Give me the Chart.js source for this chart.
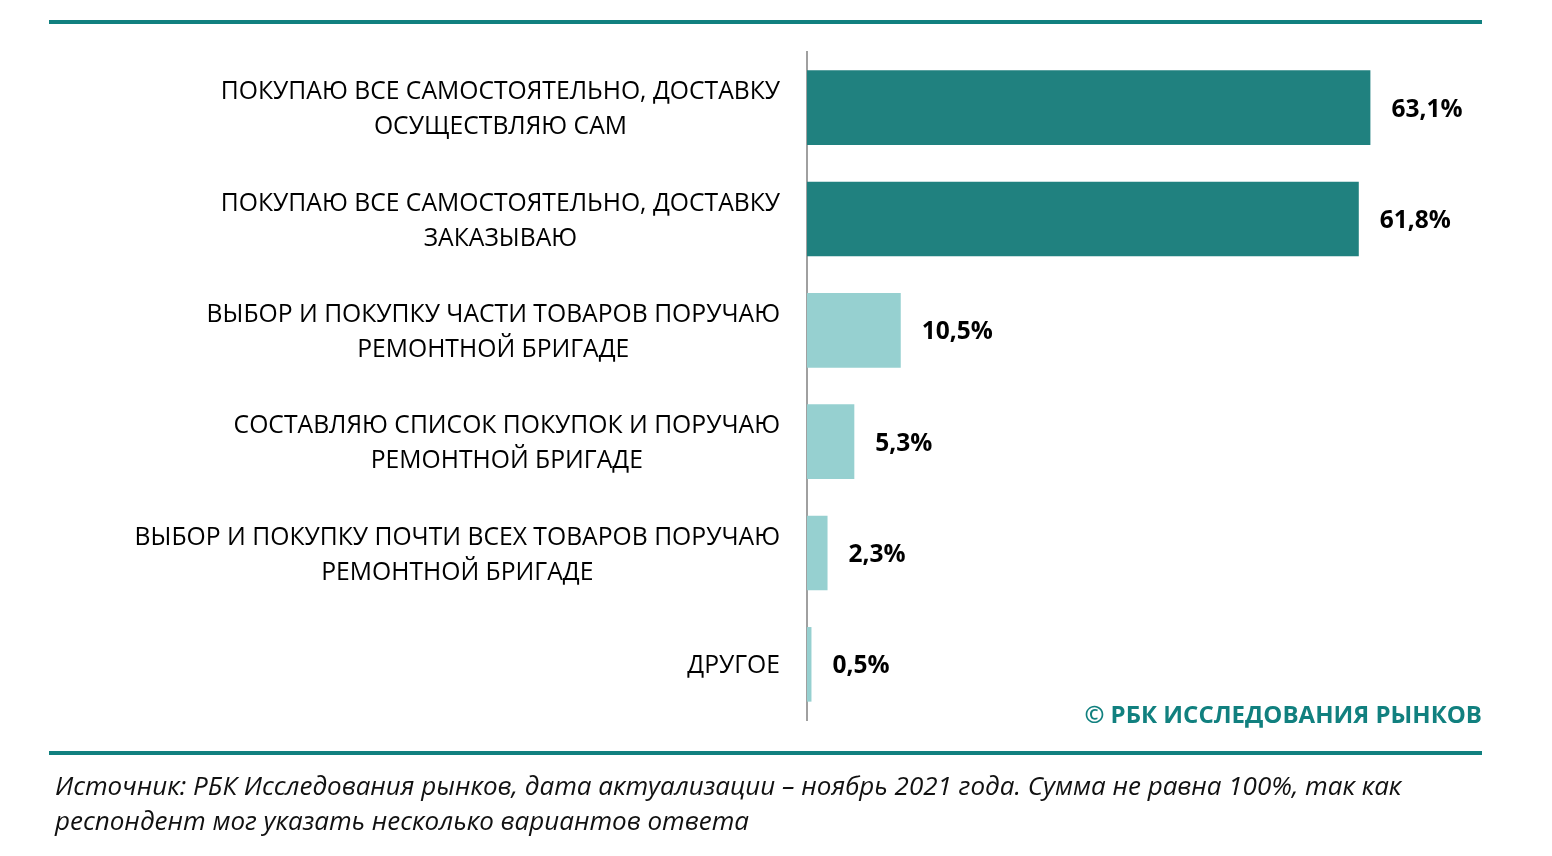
<!DOCTYPE html>
<html>
<head>
<meta charset="utf-8">
<script src="https://cdn.jsdelivr.net/npm/chart.js@4"></script>
<style>
  body { margin: 0; background: #fff; }
  #wrap { position: relative; width: 1552px; height: 856px; overflow: hidden; }
  #grafica { position: absolute; left: 0; top: 0; }
  .linea { position: absolute; left: 49px; width: 1433px; height: 4px; background: #11807f; }
  #copy { position: absolute; right: 70px; top: 697px; font: bold 24px "Open Sans", sans-serif; color: #11807f; }
  #fuente { position: absolute; left: 55px; top: 768px; font: italic 26px "Open Sans", sans-serif; line-height: 35px; color: #111; white-space: nowrap; }
</style>
</head>
<body>
<div id="wrap">
  <canvas id="grafica" width="1552" height="856"></canvas>
  <div class="linea" style="top:20px"></div>
  <div id="copy">© РБК ИССЛЕДОВАНИЯ РЫНКОВ</div>
  <div class="linea" style="top:751px"></div>
  <div id="fuente">Источник: РБК Исследования рынков, дата актуализации – ноябрь 2021 года. Сумма не равна 100%, так как<br>респондент мог указать несколько вариантов ответа</div>
</div>
<script>
const categorias = [
  ["ПОКУПАЮ ВСЕ САМОСТОЯТЕЛЬНО, ДОСТАВКУ", "ОСУЩЕСТВЛЯЮ САМ"],
  ["ПОКУПАЮ ВСЕ САМОСТОЯТЕЛЬНО, ДОСТАВКУ", "ЗАКАЗЫВАЮ"],
  ["ВЫБОР И ПОКУПКУ ЧАСТИ ТОВАРОВ ПОРУЧАЮ", "РЕМОНТНОЙ БРИГАДЕ"],
  ["СОСТАВЛЯЮ СПИСОК ПОКУПОК И ПОРУЧАЮ", "РЕМОНТНОЙ БРИГАДЕ"],
  ["ВЫБОР И ПОКУПКУ ПОЧТИ ВСЕХ ТОВАРОВ ПОРУЧАЮ", "РЕМОНТНОЙ БРИГАДЕ"],
  ["ДРУГОЕ"]
];
const valores = [63.1, 61.8, 10.5, 5.3, 2.3, 0.5];
const colores = ["#20817f", "#20817f", "#96d0d0", "#96d0d0", "#96d0d0", "#96d0d0"];

const etiquetasPlugin = {
  id: 'etiquetas',
  afterDatasetsDraw(chart) {
    const ctx = chart.ctx;
    const y = chart.scales.y;
    const meta = chart.getDatasetMeta(0);
    ctx.save();
    ctx.fillStyle = '#000';
    ctx.textBaseline = 'middle';
    // categorias: bloque alineado a la derecha, lineas centradas
    ctx.font = '24.7px "Open Sans", sans-serif';
    const derecha = chart.chartArea.left - 27;
    categorias.forEach((lineas, i) => {
      const cy = y.getPixelForValue(i) + 2;
      const ancho = Math.max(...lineas.map(l => ctx.measureText(l).width));
      const centro = derecha - ancho / 2;
      ctx.textAlign = 'center';
      const alto = 35;
      lineas.forEach((l, j) => {
        ctx.fillText(l, centro, cy + (j - (lineas.length - 1) / 2) * alto);
      });
    });
    // valores
    ctx.font = 'bold 24.5px "Open Sans", sans-serif';
    ctx.textAlign = 'left';
    meta.data.forEach((bar, i) => {
      ctx.fillText(valores[i].toFixed(1).replace('.', ',') + '%', bar.x + 21, bar.y + 2);
    });
    ctx.restore();
  }
};

const ctx = document.getElementById('grafica').getContext('2d');
const chart = new Chart(ctx, {
  type: 'bar',
  data: {
    labels: categorias,
    datasets: [{
      data: valores,
      backgroundColor: colores,
      borderWidth: 0,
      categoryPercentage: 1,
      barPercentage: 0.67
    }]
  },
  options: {
    indexAxis: 'y',
    responsive: false,
    animation: false,
    layout: { padding: { left: 807, right: 120, top: 52, bottom: 136 } },
    plugins: { legend: { display: false }, tooltip: { enabled: false } },
    scales: {
      x: { display: false, min: 0, max: 70 },
      y: {
        grid: { display: false, drawTicks: false },
        border: { display: true, color: '#a0a0a0', width: 2 },
        ticks: { display: false }
      }
    }
  },
  plugins: [etiquetasPlugin]
});
</script>
</body>
</html>
